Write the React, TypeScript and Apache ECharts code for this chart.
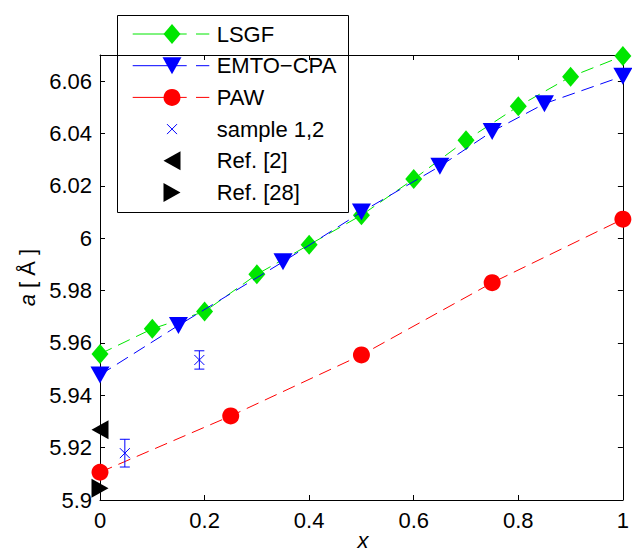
import React, { useEffect, useRef } from "react";
import * as echarts from "echarts";

// ---- data ----
const lsgfX = [0, 0.1, 0.2, 0.3, 0.4, 0.5, 0.6, 0.7, 0.8, 0.9, 1.0];
const lsgfA = [5.9558, 5.9654, 5.972, 5.9862, 5.9975, 6.0088, 6.0226, 6.0374, 6.0504, 6.0617, 6.0696];
const emtoX = [0, 0.15, 0.35, 0.5, 0.65, 0.75, 0.85, 1.0];
const emtoA = [5.9478, 5.9667, 5.991, 6.01, 6.0275, 6.0408, 6.0514, 6.0619];
const pawX = [0, 0.25, 0.5, 0.75, 1.0];
const pawA = [5.9106, 5.9321, 5.9554, 5.983, 6.0073];
const sampleX = [0.0475, 0.19];
const sampleA = [5.9179, 5.9535];
const sampleErr = [0.0053, 0.0035];
const ref2X = [0];
const ref2A = [5.9268];
const ref28X = [0];
const ref28A = [5.9045];

const seriesNames = ["LSGF", "EMTO\u2212CPA", "PAW", "sample 1,2", "Ref. [2]", "Ref. [28]"];
const xTitle = "x";
const yTitle = "{i|a} [ \u00C5 ]";

const FONT = "'Liberation Sans', Arial, Helvetica, sans-serif";
const GREEN = "#00e600";
const BLUE = "#0000ff";
const RED = "#ff0000";
const BLACK = "#000000";

const pairs = (xs: number[], ys: number[]) => xs.map((x, i) => [x, ys[i]]);

export default function App() {
  const ref = useRef<HTMLDivElement>(null);

  useEffect(() => {
    if (!ref.current) return;
    const chart = echarts.init(ref.current, undefined, { renderer: "svg" });

    const axisCommon = {
      type: "value" as const,
      axisLine: { show: true, onZero: false, lineStyle: { color: BLACK, width: 1 } },
      axisTick: { show: true, inside: true, length: 5, lineStyle: { color: BLACK, width: 1 } },
      splitLine: { show: false },
    };

    // legend (drawn manually to match the MATLAB look)
    const lgLeft = 117.5;
    const lgTop = 15.5;
    const rowY0 = 34;
    const rowGap = 31.7;
    const mx = 172;
    const textX = 216.7;
    const legendChildren: any[] = [
      {
        type: "rect",
        shape: { x: lgLeft, y: lgTop, width: 231, height: 197 },
        style: { fill: "#ffffff", stroke: BLACK, lineWidth: 1 },
      },
    ];
    const rowYs = seriesNames.map((_, i) => rowY0 + i * rowGap);
    const lineRow = (i: number, color: string) => ({
      type: "line",
      shape: { x1: 132.7, y1: rowYs[i], x2: 209.3, y2: rowYs[i] },
      style: { stroke: color, lineWidth: 1, lineDash: [54, 9.3, 13.3, 0] },
    });
    legendChildren.push(lineRow(0, GREEN));
    legendChildren.push({
      type: "polygon",
      shape: { points: [[mx - 8.5, rowYs[0]], [mx, rowYs[0] - 10], [mx + 8.5, rowYs[0]], [mx, rowYs[0] + 10]] },
      style: { fill: GREEN },
    });
    legendChildren.push(lineRow(1, BLUE));
    legendChildren.push({
      type: "polygon",
      shape: { points: [[mx - 9.5, rowYs[1] - 8.5], [mx + 9.5, rowYs[1] - 8.5], [mx, rowYs[1] + 8.5]] },
      style: { fill: BLUE },
    });
    legendChildren.push(lineRow(2, RED));
    legendChildren.push({ type: "circle", shape: { cx: mx, cy: rowYs[2], r: 8.5 }, style: { fill: RED } });
    legendChildren.push({
      type: "line",
      shape: { x1: mx - 5, y1: rowYs[3] - 5, x2: mx + 5, y2: rowYs[3] + 5 },
      style: { stroke: BLUE, lineWidth: 1 },
    });
    legendChildren.push({
      type: "line",
      shape: { x1: mx - 5, y1: rowYs[3] + 5, x2: mx + 5, y2: rowYs[3] - 5 },
      style: { stroke: BLUE, lineWidth: 1 },
    });
    legendChildren.push({
      type: "polygon",
      shape: { points: [[mx - 8.5, rowYs[4]], [mx + 8.5, rowYs[4] - 9.5], [mx + 8.5, rowYs[4] + 9.5]] },
      style: { fill: BLACK },
    });
    legendChildren.push({
      type: "polygon",
      shape: { points: [[mx + 8.5, rowYs[5]], [mx - 8.5, rowYs[5] - 9.5], [mx - 8.5, rowYs[5] + 9.5]] },
      style: { fill: BLACK },
    });
    seriesNames.forEach((n, i) => {
      legendChildren.push({
        type: "text",
        x: textX,
        y: rowYs[i],
        style: {
          text: n,
          fill: BLACK,
          fontSize: 22,
          fontFamily: FONT,
          align: "left",
          verticalAlign: "middle",
        },
      });
    });

    const option: any = {
      animation: false,
      backgroundColor: "#ffffff",
      grid: { left: 100, right: 6, top: 55, bottom: 60, containLabel: false },
      xAxis: [
        {
          ...axisCommon,
          min: 0,
          max: 1,
          interval: 0.2,
          position: "bottom",
          axisLabel: { color: BLACK, fontSize: 22, fontFamily: FONT, margin: 9 },
        },
        {
          ...axisCommon,
          min: 0,
          max: 1,
          interval: 0.2,
          position: "top",
          axisLabel: { show: false },
        },
      ],
      yAxis: [
        {
          ...axisCommon,
          min: 5.9,
          max: 6.07,
          interval: 0.02,
          position: "left",
          axisLabel: { color: BLACK, fontSize: 22, fontFamily: FONT, margin: 8, showMaxLabel: false },
        },
        {
          ...axisCommon,
          min: 5.9,
          max: 6.07,
          interval: 0.02,
          position: "right",
          axisLabel: { show: false },
        },
      ],
      series: [
        {
          name: seriesNames[0],
          type: "line",
          data: pairs(lsgfX, lsgfA),
          symbol: "diamond",
          symbolSize: [17, 20],
          clip: false,
          lineStyle: { color: GREEN, width: 1, type: [13, 7] },
          itemStyle: { color: GREEN, opacity: 1 },
          z: 3,
        },
        {
          name: seriesNames[1],
          type: "line",
          data: pairs(emtoX, emtoA),
          symbol: "triangle",
          symbolRotate: 180,
          symbolSize: [19, 17],
          clip: false,
          lineStyle: { color: BLUE, width: 1, type: [13, 7] },
          itemStyle: { color: BLUE, opacity: 1 },
          z: 4,
        },
        {
          name: seriesNames[2],
          type: "line",
          data: pairs(pawX, pawA),
          symbol: "circle",
          symbolSize: 17,
          clip: false,
          lineStyle: { color: RED, width: 1, type: [13, 7] },
          itemStyle: { color: RED, opacity: 1 },
          z: 5,
        },
        {
          name: seriesNames[3],
          type: "custom",
          data: sampleX.map((x, i) => [x, sampleA[i], sampleErr[i]]),
          encode: { x: 0, y: 1 },
          clip: false,
          z: 6,
          renderItem: (_params: any, api: any) => {
            const x = api.value(0);
            const y = api.value(1);
            const e = api.value(2);
            const c = api.coord([x, y]);
            const t = api.coord([x, y + e]);
            const b = api.coord([x, y - e]);
            const cap = 5;
            const s = 5;
            const st = { stroke: BLUE, lineWidth: 1, fill: "none" };
            return {
              type: "group",
              children: [
                { type: "line", shape: { x1: c[0], y1: t[1], x2: c[0], y2: b[1] }, style: st },
                { type: "line", shape: { x1: c[0] - cap, y1: t[1], x2: c[0] + cap, y2: t[1] }, style: st },
                { type: "line", shape: { x1: c[0] - cap, y1: b[1], x2: c[0] + cap, y2: b[1] }, style: st },
                { type: "line", shape: { x1: c[0] - s, y1: c[1] - s, x2: c[0] + s, y2: c[1] + s }, style: st },
                { type: "line", shape: { x1: c[0] - s, y1: c[1] + s, x2: c[0] + s, y2: c[1] - s }, style: st },
              ],
            };
          },
        },
        {
          name: seriesNames[4],
          type: "scatter",
          data: pairs(ref2X, ref2A),
          symbol: "triangle",
          symbolRotate: 90,
          symbolSize: [19, 17],
          clip: false,
          itemStyle: { color: BLACK, opacity: 1 },
          z: 7,
        },
        {
          name: seriesNames[5],
          type: "scatter",
          data: pairs(ref28X, ref28A),
          symbol: "triangle",
          symbolRotate: -90,
          symbolSize: [19, 17],
          clip: false,
          itemStyle: { color: BLACK, opacity: 1 },
          z: 7,
        },
      ],
      graphic: [
        {
          type: "text",
          x: 363,
          y: 540,
          style: {
            text: xTitle,
            fill: BLACK,
            fontSize: 22,
            fontFamily: FONT,
            fontStyle: "italic",
            align: "center",
            verticalAlign: "middle",
          },
        },
        {
          type: "text",
          x: 27,
          y: 277.5,
          rotation: Math.PI / 2,
          style: {
            text: yTitle,
            fill: BLACK,
            fontSize: 22,
            fontFamily: FONT,
            align: "center",
            verticalAlign: "middle",
            rich: {
              i: { fontStyle: "italic", fontSize: 22, fontFamily: FONT, fill: BLACK },
            },
          },
        },
        {
          type: "group",
          z: 100,
          children: legendChildren,
        },
      ],
    };

    chart.setOption(option);
    return () => chart.dispose();
  }, []);

  return (
    <div
      ref={ref}
      style={{ position: "fixed", left: 0, top: 0, width: 632, height: 560, background: "#fff" }}
    />
  );
}
